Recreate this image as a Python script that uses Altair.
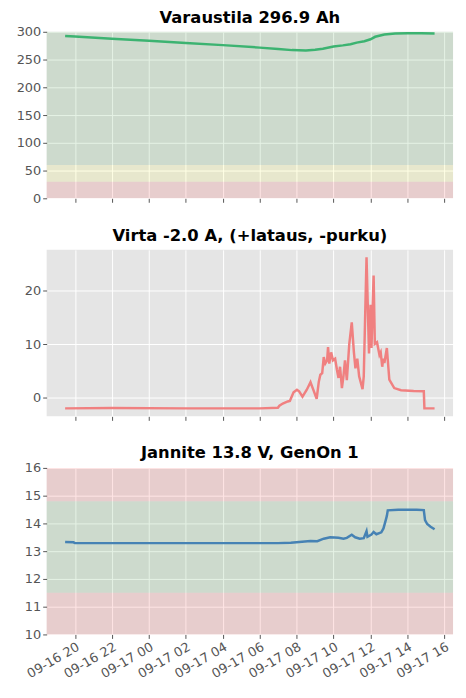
import altair as alt
import pandas as pd

# ---------------- data ----------------
soc_time = ["16 19:28", "16 20:00", "16 22:00", "17 00:00", "17 02:00", "17 04:00", "17 06:00",
            "17 07:00", "17 07:45", "17 08:30", "17 09:00", "17 09:25", "17 10:00", "17 10:30",
            "17 10:55", "17 11:15", "17 11:40", "17 12:00", "17 12:15", "17 12:45", "17 13:20",
            "17 14:00", "17 14:45", "17 15:28"]
soc_val = [292.5, 291.5, 287.5, 284.0, 280.0, 276.0, 271.5,
           269.0, 267.0, 266.5, 267.5, 269.5, 273.5, 275.5,
           277.5, 280.5, 283.0, 286.5, 291.0, 295.0, 296.8,
           297.3, 297.5, 296.9]

cur_time = ["16 19:28", "16 22:00", "17 02:00", "17 06:00", "17 06:59", "17 07:04", "17 07:15",
            "17 07:31", "17 07:38", "17 07:41", "17 07:50", "17 08:01", "17 08:08", "17 08:19",
            "17 08:33", "17 08:45", "17 08:54", "17 09:05", "17 09:12", "17 09:17", "17 09:23",
            "17 09:28", "17 09:33", "17 09:39", "17 09:42", "17 09:46", "17 09:52", "17 09:58",
            "17 10:05", "17 10:11", "17 10:16", "17 10:21", "17 10:27", "17 10:32", "17 10:37",
            "17 10:43", "17 10:51", "17 10:59", "17 11:06", "17 11:11", "17 11:17", "17 11:23",
            "17 11:34", "17 11:38", "17 11:47", "17 11:55", "17 12:00", "17 12:03", "17 12:10",
            "17 12:14", "17 12:21", "17 12:29", "17 12:33", "17 12:38", "17 12:41", "17 12:45",
            "17 12:53", "17 13:01", "17 13:17", "17 13:39", "17 14:20", "17 14:53", "17 14:55",
            "17 15:28"]
cur_val = [-2.0, -1.95, -2.0, -2.0, -1.9, -1.5, -1.1,
           -0.7, -0.6, -0.2, 1.0, 1.5, 1.2, 0.2,
           1.5, 2.9, 1.5, -0.2, 3.0, 4.3, 4.6,
           7.6, 6.4, 7.0, 9.5, 6.4, 8.5, 7.0,
           7.3, 5.2, 3.7, 5.8, 1.8, 4.0, 7.0,
           3.3, 10.1, 14.1, 8.5, 5.5, 7.3, 4.0,
           1.6, 4.0, 26.3, 8.3, 17.4, 9.3, 22.9,
           10.1, 10.4, 8.0, 8.5, 5.8, 7.3, 6.5,
           9.3, 3.4, 1.8, 1.4, 1.25, 1.2, -2.0,
           -2.0]

volt_time = ["16 19:28", "16 19:55", "16 20:00", "17 02:00", "17 06:59", "17 07:41", "17 08:45",
             "17 09:07", "17 09:28", "17 09:49", "17 10:16", "17 10:32", "17 10:43", "17 10:59",
             "17 11:10", "17 11:25", "17 11:38", "17 11:47", "17 11:50", "17 12:03", "17 12:10",
             "17 12:19", "17 12:35", "17 12:42", "17 12:49", "17 12:53", "17 12:56", "17 13:30",
             "17 14:30", "17 14:53", "17 14:57", "17 15:04", "17 15:15", "17 15:28"]
volt_val = [13.33, 13.32, 13.29, 13.29, 13.29, 13.30, 13.37,
            13.36, 13.45, 13.50, 13.48, 13.45, 13.48, 13.59,
            13.50, 13.45, 13.47, 13.72, 13.52, 13.60, 13.69,
            13.61, 13.68, 13.82, 14.10, 14.27, 14.47, 14.49,
            14.49, 14.48, 14.12, 13.98, 13.88, 13.79]

soc_band_lo = [0, 30, 60]
soc_band_hi = [30, 60, 300]
soc_band_col = ["red", "yellow", "green"]

volt_band_lo = [10, 11.5, 14.8]
volt_band_hi = [11.5, 14.8, 16]
volt_band_col = ["red", "green", "red"]

x_tick_hours = [(16, 20), (16, 22), (17, 0), (17, 2), (17, 4), (17, 6), (17, 8),
                (17, 10), (17, 12), (17, 14), (17, 16)]


def iso(t):
    d, hm = t.split(" ")
    return f"2023-09-{d}T{hm}:00"


W, H = 410, 168
FONT = "DejaVu Sans"
GRAY = "#555555"
BG = "#E5E5E5"

x_domain = [alt.DateTime(year=2023, month=9, date=16, hours=18, minutes=28),
            alt.DateTime(year=2023, month=9, date=17, hours=16, minutes=28)]
x_values = [alt.DateTime(year=2023, month=9, date=d, hours=h) for d, h in x_tick_hours]


def panel(title, times, vals, color, ydom, yticks, bands=None, show_labels=False, toff=2):
    df = pd.DataFrame({"t": [iso(t) for t in times], "v": vals})
    xaxis = alt.Axis(values=x_values, format="%m-%d %H", labels=show_labels,
                     labelAngle=330, labelAlign="right", labelBaseline="top",
                     labelOverlap=False, labelBound=False,
                     labelFontSize=13, labelColor=GRAY, labelFont=FONT, labelPadding=2,
                     tickColor=GRAY, tickSize=4, domain=False, grid=True,
                     gridColor="white", gridWidth=1, title=None)
    yaxis = alt.Axis(values=yticks, labelFontSize=13, labelColor=GRAY, labelFont=FONT,
                     tickColor=GRAY, tickSize=4, domain=False, grid=True,
                     gridColor="white", gridWidth=1, title=None,
                     labelOverlap=False, minExtent=39, maxExtent=39)
    yscale = alt.Scale(domain=ydom, nice=False, zero=False)
    line = alt.Chart(df).mark_line(color=color, strokeWidth=2.5, clip=True).encode(
        x=alt.X("t:T", scale=alt.Scale(domain=x_domain, nice=False), axis=xaxis),
        y=alt.Y("v:Q", scale=yscale, axis=yaxis),
    )
    layers = []
    if bands is not None:
        lo, hi, col = bands
        bdf = pd.DataFrame({"lo": lo, "hi": hi, "col": col})
        rect = alt.Chart(bdf).mark_rect(opacity=0.1).encode(
            y=alt.Y("lo:Q", scale=yscale, axis=yaxis),
            y2="hi:Q",
            color=alt.Color("col:N", scale=None, legend=None),
        )
        layers.append(rect)
    layers.append(line)
    return alt.layer(*layers).properties(
        width=W, height=H,
        view=alt.ViewBackground(fill=BG, stroke=None),
        title=alt.TitleParams(title, fontSize=16.5, fontWeight="bold", font=FONT,
                              color="black", offset=toff, anchor="middle"),
    )


p1 = panel("Varaustila 296.9 Ah", soc_time, soc_val, "#3cb371", [0, 300],
           [0, 50, 100, 150, 200, 250, 300], bands=(soc_band_lo, soc_band_hi, soc_band_col),
           toff=-1)
p2 = panel("Virta -2.0 A, (+lataus, -purku)", cur_time, cur_val, "#f08080", [-3.5, 27.7],
           [0, 10, 20], toff=5)
p3 = panel("Jannite 13.8 V, GenOn 1", volt_time, volt_val, "#4682b4", [10, 16],
           [10, 11, 12, 13, 14, 15, 16], bands=(volt_band_lo, volt_band_hi, volt_band_col),
           show_labels=True, toff=1)

chart = alt.vconcat(p1, p2, p3, spacing=23).properties(
    padding={"left": 0, "top": -1, "right": 5, "bottom": 0}
).configure(
    font=FONT
).configure_view(
    fill=BG, stroke=None
).configure_axis(
    gridColor="white", gridWidth=1, gridOpacity=1
)

chart.save("out.html", embed_options={"renderer": "svg", "actions": False})
